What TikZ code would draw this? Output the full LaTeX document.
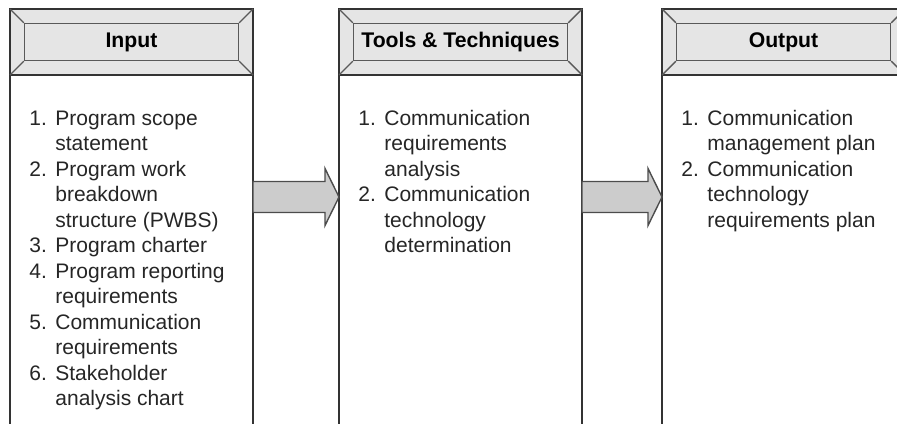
\documentclass[tikz,border=0pt]{standalone}
\usepackage{fontspec}
\setmainfont{Liberation Sans}
\usepackage{array}
\usetikzlibrary{positioning}
\tikzstyle{frame}=[rectangle, draw=black!80, line width=1pt, inner sep=0pt, outer sep=0pt]
\tikzstyle{header}=[frame, fill=black!10, minimum width=121.5pt, minimum height=33pt]
\tikzstyle{title}=[rectangle, draw=black!65, line width=0.7pt, fill=black!10, minimum width=107pt, minimum height=18.5pt, font=\bfseries\fontsize{10.6}{12}\selectfont]
\tikzstyle{body}=[frame, fill=white, minimum width=121.5pt, minimum height=180pt]
\tikzstyle{list}=[inner sep=0pt, anchor=north west, text=black!85, font=\fontsize{10.5}{12.75}\selectfont]
\tikzstyle{bevel}=[draw=black!65, line width=0.7pt]
\tikzstyle{flow}=[draw=black!70, line width=0.7pt, fill=black!20, line join=miter]

\begin{document}
\begin{tikzpicture}[x=0.5pt, y=-0.5pt]
  \path[use as bounding box, clip] (0,0) rectangle (897,423);
  % header boxes
  \node[header] (inhead) at (131.5,42) {};
  \node[header] (toolhead) [right=43pt of inhead] {};
  \node[header] (outhead) [right=40pt of toolhead] {};
  % bodies
  \node[body] (inbody) [below=0pt of inhead, anchor=north] {};
  \node[body] (toolbody) [below=0pt of toolhead, anchor=north] {};
  \node[body] (outbody) [below=0pt of outhead, anchor=north] {};
  % titles with bevel
  \node[title] (intitle) at (inhead) {Input};
  \node[title] (tooltitle) at (toolhead) {Tools \& Techniques};
  \node[title] (outtitle) at (outhead) {Output};
  \draw[bevel] (inhead.north west) -- (intitle.north west) (inhead.north east) -- (intitle.north east)
    (inhead.south west) -- (intitle.south west) (inhead.south east) -- (intitle.south east);
  \draw[bevel] (toolhead.north west) -- (tooltitle.north west) (toolhead.north east) -- (tooltitle.north east)
    (toolhead.south west) -- (tooltitle.south west) (toolhead.south east) -- (tooltitle.south east);
  \draw[bevel] (outhead.north west) -- (outtitle.north west) (outhead.north east) -- (outtitle.north east)
    (outhead.south west) -- (outtitle.south west) (outhead.south east) -- (outtitle.south east);
  % lists
  \node[list] (inlist) at ([xshift=9.5pt, yshift=-16pt]inbody.north west) {%
    \begin{tabular}{@{}p{13pt}@{}l@{}}
      1. & Program scope\\
         & statement\\
      2. & Program work\\
         & breakdown\\
         & structure (PWBS)\\
      3. & Program charter\\
      4. & Program reporting\\
         & requirements\\
      5. & Communication\\
         & requirements\\
      6. & Stakeholder\\
         & analysis chart
    \end{tabular}};
  \node[list] (toollist) at ([xshift=9.5pt, yshift=-16pt]toolbody.north west) {%
    \begin{tabular}{@{}p{13pt}@{}l@{}}
      1. & Communication\\
         & requirements\\
         & analysis\\
      2. & Communication\\
         & technology\\
         & determination
    \end{tabular}};
  \node[list] (outlist) at ([xshift=9.5pt, yshift=-16pt]outbody.north west) {%
    \begin{tabular}{@{}p{13pt}@{}l@{}}
      1. & Communication\\
         & management plan\\
      2. & Communication\\
         & technology\\
         & requirements plan
    \end{tabular}};
  % flow arrows
  \coordinate (a1) at ([yshift=-61pt]inbody.north east);
  \coordinate (b1) at ([yshift=-61pt]toolbody.north west);
  \coordinate (a2) at ([yshift=-61pt]toolbody.north east);
  \coordinate (b2) at ([yshift=-61pt]outbody.north west);
  \draw[flow] ([yshift=7.75pt]a1) -- ([xshift=-7pt, yshift=7.75pt]b1) -- ([xshift=-7pt, yshift=14.25pt]b1)
    -- (b1) -- ([xshift=-7pt, yshift=-14.25pt]b1) -- ([xshift=-7pt, yshift=-7.75pt]b1) -- ([yshift=-7.75pt]a1) -- cycle;
  \draw[flow] ([yshift=7.75pt]a2) -- ([xshift=-7pt, yshift=7.75pt]b2) -- ([xshift=-7pt, yshift=14.25pt]b2)
    -- (b2) -- ([xshift=-7pt, yshift=-14.25pt]b2) -- ([xshift=-7pt, yshift=-7.75pt]b2) -- ([yshift=-7.75pt]a2) -- cycle;
\end{tikzpicture}
\end{document}
